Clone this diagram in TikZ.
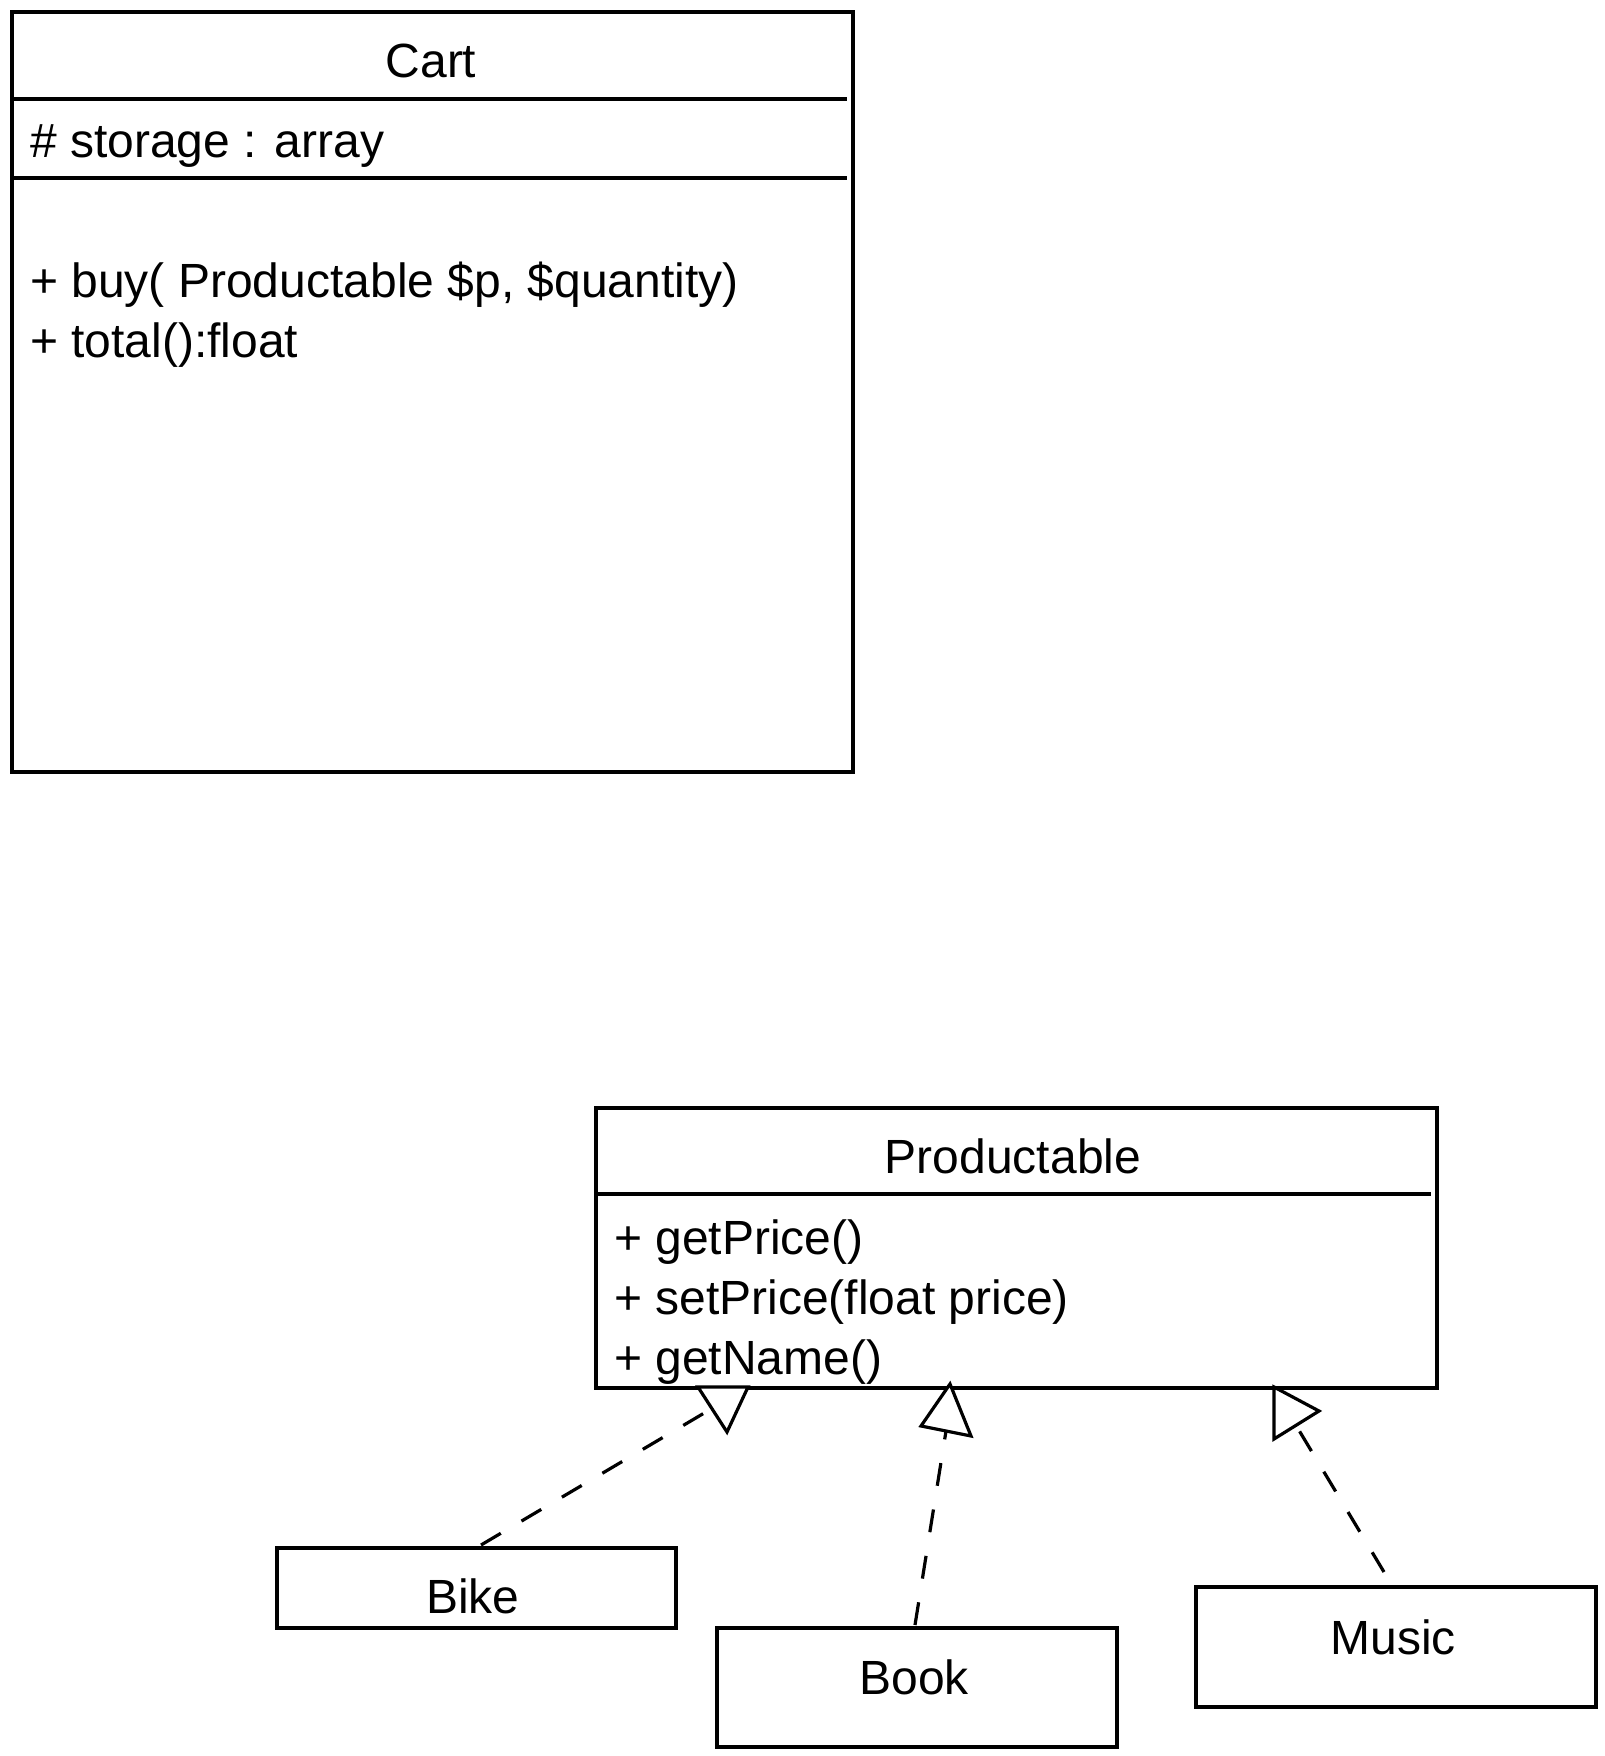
\documentclass[tikz,border=0pt]{standalone}
\usepackage{fontspec}
\setmainfont{Liberation Sans}
\begin{document}
\begin{tikzpicture}[x=1pt,y=-1pt,
  box/.style={draw=black, line width=3.5pt, fill=white, inner sep=0pt, anchor=north west},
  lbl/.style={inner sep=0pt, font=\fontsize{48}{57}\selectfont},
  rel/.style={draw=black, line width=3.2pt, dash pattern=on 23pt off 24pt},
  tri/.style={draw=black, line width=3.2pt, fill=white, line join=miter}]
\useasboundingbox (0,0) rectangle (1604,1756);
% Cart class
\node[box, minimum width=841pt, minimum height=760pt] (cart) at (10,10) {};
\draw[line width=3.5pt] (10,99) -- (847,99);
\draw[line width=3.5pt] (10,178) -- (847,178);
\node[lbl, anchor=base] (cartname) at (431,77) {Cart};
\node[lbl, anchor=base west] (cartattr) at (30,157) {\# storage : array};
\node[lbl, anchor=base west] (cartbuy) at (30,297) {+ buy( Productable \$p, \$quantity)};
\node[lbl, anchor=base west] (carttotal) at (30,357) {+ total():float};
% Productable
\node[box, minimum width=841pt, minimum height=280pt] (prod) at (594,1106) {};
\draw[line width=3.5pt] (594,1194) -- (1431,1194);
\node[lbl, anchor=base] (prodname) at (1013,1173) {Productable};
\node[lbl, anchor=base west] (m1) at (614,1254) {+ getPrice()};
\node[lbl, anchor=base west] (m2) at (614,1314) {+ setPrice(float price)};
\node[lbl, anchor=base west] (m3) at (614,1374) {+ getName()};
% Subclasses
\node[box, minimum width=399pt, minimum height=80pt] (bike) at (275,1546) {};
\node[lbl, anchor=base] (bikename) at (473,1613) {Bike};
\node[box, minimum width=400pt, minimum height=119pt] (book) at (715,1626) {};
\node[lbl, anchor=base] (bookname) at (914,1694) {Book};
\node[box, minimum width=400pt, minimum height=120pt] (music) at (1194,1585) {};
\node[lbl, anchor=base] (musicname) at (1393,1654) {Music};
% connector end points
\coordinate (bikeS) at (481,1545);
\coordinate (bikeE) at (711,1409);
\coordinate (bookS) at (915,1625);
\coordinate (bookE) at (946,1431);
\coordinate (musicS) at (1384,1572);
\coordinate (musicE) at (1297,1427);
% realization connectors
\draw[rel] (bikeS) -- (bikeE);
\draw[rel] (bookS) -- (bookE);
\draw[rel] (musicS) -- (musicE);
% triangles
\draw[tri] (698,1387) -- (748,1387) -- (727,1432) -- cycle;
\draw[tri] (950,1384) -- (921,1426) -- (971,1436) -- cycle;
\draw[tri] (1274,1387) -- (1319,1411) -- (1274,1439) -- cycle;
\end{tikzpicture}
\end{document}
